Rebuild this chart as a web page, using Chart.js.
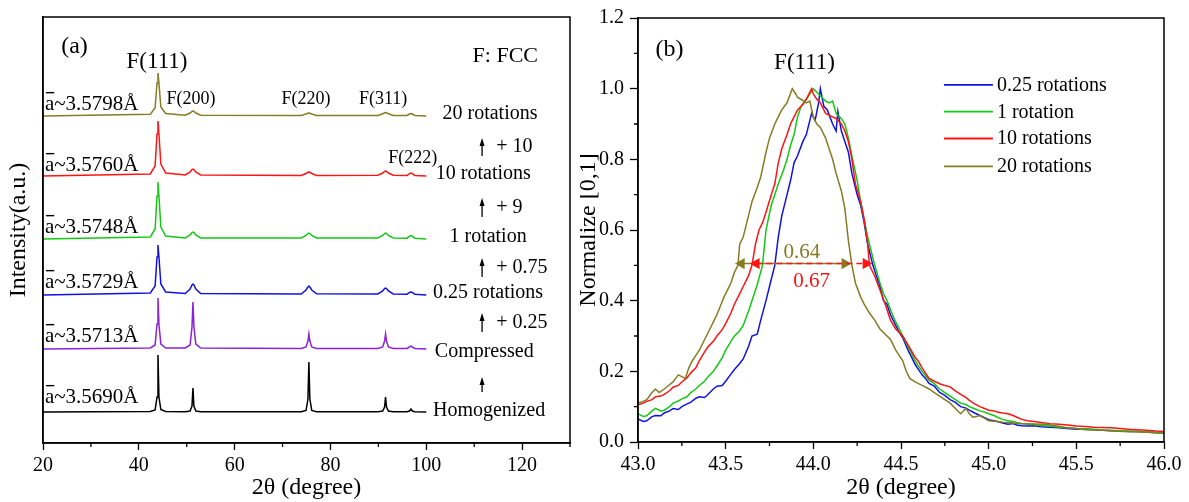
<!DOCTYPE html>
<html>
<head>
<meta charset="utf-8">
<script src="https://cdn.jsdelivr.net/npm/chart.js@4.4.0/dist/chart.umd.min.js"></script>
<style>
body { margin: 0; background: #fff; }
#wa { position: absolute; left: 0; top: 0; width: 580px; height: 502px; }
#wb { position: absolute; left: 580px; top: 0; width: 609px; height: 502px; }
</style>
</head>
<body>
<div id="wa"><canvas id="chartA"></canvas></div>
<div id="wb"><canvas id="chartB"></canvas></div>
<script>
// ---------- panel (a): stacked XRD patterns ----------
var sampleNames = ['Homogenized', 'Compressed', '0.25 rotations', '1 rotation', '10 rotations', '20 rotations'];
var colorsA = ['#000000', '#8b22d8', '#1212e0', '#14c814', '#ff1414', '#857c24'];
var offsets = [31, 94, 148, 204, 267, 327];
var latticeLabels = ['a~3.5690Å', 'a~3.5713Å', 'a~3.5729Å', 'a~3.5748Å', 'a~3.5760Å', 'a~3.5798Å'];
var shiftLabels = ['', '+ 0.25', '+ 0.75', '+ 9', '+ 10'];

var twoTheta = [20,
  42.4, 43.4, 43.8, 44.0, 44.2, 44.6, 45.6,
  49.7, 50.7, 51.1, 51.3, 51.5, 51.9, 52.9,
  73.9, 74.9, 75.3, 75.5, 75.7, 76.1, 77.1,
  89.9, 90.9, 91.3, 91.5, 91.7, 92.1, 93.1,
  96.0, 96.5, 96.8, 97.1, 97.6,
  100];

var homogenized = [0, 0.5, 2, 15, 57, 15, 2.5, 0.5, 0.3, 1, 6, 24, 6, 1, 0.3, 0.3, 1.5, 13, 50, 13, 1.5, 0.3, 0.3, 1, 5, 15, 5, 1, 0.3, 0.2, 1, 3, 1, 0.2, 0];
var compressed = [0, 1, 4, 25, 51, 25, 5, 1, 1, 4, 22, 47, 22, 5, 1, 0.5, 2, 8, 15, 8, 2, 0.5, 0.5, 2, 8, 15, 8, 2, 0.5, 0.5, 2, 3, 2, 0.5, 0];
var rot025 = [0, 2, 9, 38, 50, 38, 11, 3, 1.5, 6, 10, 11, 10, 6, 1.5, 1, 5, 8, 9, 8, 5, 1.2, 1, 4, 6.5, 7, 6.5, 4, 1, 0.8, 2.5, 3, 2.5, 0.8, 0];
var rot1 = [0, 2, 10, 43, 57, 43, 12, 3, 1, 4, 6.5, 7, 6.5, 4, 1, 1, 3.5, 5.5, 6, 5.5, 3.5, 1, 1, 3.5, 5.5, 6, 5.5, 3.5, 1, 0.8, 2.8, 3.5, 2.8, 0.8, 0];
var rot10 = [0, 2, 10, 42, 55, 42, 12, 3, 1, 4, 6.5, 7, 6.5, 4, 1, 0.6, 2.5, 3.7, 4, 3.7, 2.5, 0.6, 0.8, 3, 4.6, 5, 4.6, 3, 0.8, 0.6, 2.4, 3, 2.4, 0.6, 0];
var rot20 = [0, 1.8, 8, 33, 43, 33, 9, 2.5, 0.8, 3, 4.6, 5, 4.6, 3, 0.8, 0.5, 2, 2.8, 3, 2.8, 2, 0.5, 0.6, 2.2, 3.2, 3.5, 3.2, 2.2, 0.6, 0.5, 2, 2.5, 2, 0.5, 0];
var patterns = [homogenized, compressed, rot025, rot1, rot10, rot20];

var xTicksA = [20, 40, 60, 80, 100, 120];
var xMinorA = [30, 50, 70, 90, 110, 130];

// ---------- panel (b): normalized F(111) peak ----------
var namesB = ['0.25 rotations', '1 rotation', '10 rotations', '20 rotations'];
var colorsB = ['#1212e0', '#14c814', '#ff1414', '#857c24'];

var peak025 = [[43.00,0.065],[43.03,0.058],[43.05,0.060],[43.08,0.072],[43.10,0.075],[43.13,0.074],[43.15,0.082],[43.18,0.088],[43.20,0.095],[43.23,0.092],[43.25,0.100],[43.28,0.108],[43.30,0.112],[43.33,0.124],[43.35,0.128],[43.38,0.126],[43.40,0.135],[43.43,0.150],[43.45,0.158],[43.48,0.160],[43.50,0.172],[43.53,0.192],[43.55,0.205],[43.58,0.222],[43.60,0.235],[43.63,0.270],[43.65,0.300],[43.68,0.305],[43.70,0.345],[43.73,0.400],[43.75,0.440],[43.78,0.500],[43.80,0.580],[43.82,0.640],[43.85,0.700],[43.87,0.740],[43.89,0.790],[43.91,0.810],[43.94,0.850],[43.96,0.870],[43.99,0.930],[44.01,0.910],[44.03,0.960],[44.04,1.000],[44.06,0.950],[44.08,0.940],[44.11,0.900],[44.13,0.880],[44.14,0.935],[44.16,0.880],[44.18,0.850],[44.20,0.820],[44.22,0.760],[44.25,0.700],[44.27,0.670],[44.29,0.620],[44.31,0.560],[44.34,0.500],[44.36,0.470],[44.38,0.440],[44.40,0.400],[44.42,0.390],[44.44,0.360],[44.46,0.340],[44.49,0.310],[44.51,0.295],[44.54,0.260],[44.56,0.240],[44.58,0.220],[44.60,0.205],[44.62,0.190],[44.64,0.180],[44.66,0.166],[44.69,0.158],[44.72,0.140],[44.75,0.132],[44.78,0.120],[44.81,0.112],[44.84,0.100],[44.87,0.096],[44.89,0.090],[44.92,0.082],[44.95,0.075],[44.98,0.068],[45.00,0.063],[45.03,0.060],[45.05,0.058],[45.08,0.054],[45.11,0.050],[45.14,0.052],[45.16,0.048],[45.19,0.046],[45.22,0.045],[45.26,0.046],[45.30,0.043],[45.35,0.042],[45.40,0.040],[45.45,0.038],[45.50,0.036],[45.55,0.037],[45.60,0.035],[45.65,0.033],[45.70,0.032],[45.75,0.031],[45.80,0.030],[45.85,0.030],[45.90,0.028],[45.95,0.027],[46.00,0.025]];

var peak1 = [[43.00,0.080],[43.03,0.072],[43.05,0.074],[43.08,0.088],[43.10,0.095],[43.13,0.088],[43.15,0.090],[43.18,0.100],[43.20,0.110],[43.23,0.116],[43.25,0.122],[43.28,0.128],[43.30,0.140],[43.33,0.150],[43.35,0.160],[43.38,0.172],[43.40,0.185],[43.43,0.200],[43.45,0.215],[43.48,0.238],[43.50,0.260],[43.53,0.285],[43.55,0.300],[43.58,0.315],[43.60,0.330],[43.63,0.370],[43.65,0.400],[43.68,0.445],[43.71,0.500],[43.73,0.600],[43.76,0.670],[43.78,0.700],[43.80,0.730],[43.83,0.770],[43.85,0.800],[43.87,0.840],[43.89,0.870],[43.91,0.920],[43.93,0.950],[43.96,0.970],[43.98,0.985],[44.00,1.000],[44.02,0.990],[44.04,0.980],[44.07,0.965],[44.09,0.960],[44.11,0.965],[44.13,0.930],[44.16,0.915],[44.18,0.900],[44.20,0.860],[44.22,0.810],[44.25,0.740],[44.27,0.680],[44.29,0.630],[44.31,0.580],[44.33,0.540],[44.35,0.500],[44.38,0.450],[44.40,0.420],[44.42,0.400],[44.44,0.375],[44.46,0.350],[44.49,0.320],[44.51,0.300],[44.54,0.270],[44.56,0.250],[44.58,0.230],[44.60,0.215],[44.62,0.200],[44.64,0.188],[44.66,0.175],[44.69,0.165],[44.72,0.150],[44.75,0.140],[44.78,0.130],[44.81,0.120],[44.84,0.110],[44.87,0.106],[44.89,0.100],[44.92,0.094],[44.95,0.088],[44.98,0.084],[45.00,0.080],[45.03,0.075],[45.05,0.070],[45.08,0.064],[45.11,0.060],[45.14,0.058],[45.16,0.055],[45.19,0.052],[45.22,0.050],[45.26,0.049],[45.30,0.047],[45.35,0.045],[45.40,0.042],[45.45,0.040],[45.50,0.038],[45.55,0.037],[45.60,0.036],[45.65,0.034],[45.70,0.033],[45.75,0.032],[45.80,0.031],[45.85,0.030],[45.90,0.029],[45.95,0.027],[46.00,0.025]];

var peak10 = [[43.00,0.105],[43.03,0.110],[43.05,0.115],[43.08,0.120],[43.10,0.128],[43.13,0.130],[43.15,0.135],[43.18,0.145],[43.20,0.155],[43.23,0.160],[43.25,0.170],[43.28,0.182],[43.30,0.195],[43.33,0.210],[43.35,0.230],[43.38,0.255],[43.40,0.270],[43.43,0.285],[43.45,0.300],[43.48,0.318],[43.50,0.335],[43.53,0.365],[43.55,0.390],[43.58,0.420],[43.60,0.440],[43.63,0.470],[43.65,0.500],[43.67,0.560],[43.69,0.600],[43.71,0.620],[43.73,0.650],[43.76,0.700],[43.78,0.730],[43.80,0.790],[43.82,0.830],[43.85,0.870],[43.87,0.900],[43.89,0.920],[43.91,0.940],[43.94,0.955],[43.96,0.970],[43.99,1.000],[44.00,0.985],[44.02,0.970],[44.04,0.960],[44.05,0.950],[44.07,0.930],[44.09,0.925],[44.11,0.920],[44.13,0.915],[44.16,0.900],[44.18,0.880],[44.20,0.850],[44.22,0.800],[44.24,0.730],[44.27,0.680],[44.29,0.630],[44.31,0.560],[44.32,0.500],[44.35,0.470],[44.38,0.430],[44.41,0.390],[44.44,0.345],[44.47,0.320],[44.51,0.300],[44.54,0.275],[44.58,0.240],[44.60,0.228],[44.62,0.210],[44.64,0.195],[44.66,0.180],[44.69,0.172],[44.72,0.165],[44.75,0.160],[44.78,0.156],[44.81,0.145],[44.84,0.135],[44.87,0.126],[44.89,0.118],[44.92,0.108],[44.95,0.100],[44.98,0.094],[45.00,0.090],[45.03,0.088],[45.05,0.085],[45.08,0.082],[45.11,0.080],[45.14,0.075],[45.16,0.070],[45.19,0.064],[45.22,0.060],[45.26,0.058],[45.30,0.055],[45.35,0.052],[45.40,0.050],[45.45,0.048],[45.50,0.045],[45.55,0.044],[45.60,0.042],[45.65,0.041],[45.70,0.040],[45.75,0.038],[45.80,0.036],[45.85,0.035],[45.90,0.033],[45.95,0.031],[46.00,0.030]];

var peak20 = [[43.00,0.110],[43.03,0.115],[43.05,0.120],[43.08,0.140],[43.10,0.150],[43.12,0.140],[43.15,0.150],[43.18,0.162],[43.20,0.170],[43.23,0.190],[43.25,0.185],[43.27,0.180],[43.29,0.210],[43.31,0.230],[43.33,0.245],[43.35,0.260],[43.38,0.290],[43.40,0.310],[43.43,0.340],[43.45,0.360],[43.47,0.385],[43.49,0.410],[43.51,0.430],[43.53,0.450],[43.55,0.480],[43.57,0.500],[43.58,0.560],[43.60,0.580],[43.63,0.640],[43.65,0.680],[43.68,0.720],[43.70,0.750],[43.73,0.820],[43.75,0.860],[43.78,0.900],[43.80,0.920],[43.82,0.940],[43.85,0.960],[43.88,1.000],[43.90,0.985],[43.91,0.975],[43.93,0.970],[43.96,0.960],[43.98,0.965],[44.00,0.920],[44.02,0.900],[44.04,0.890],[44.07,0.860],[44.09,0.830],[44.11,0.800],[44.13,0.760],[44.16,0.710],[44.18,0.660],[44.20,0.570],[44.22,0.500],[44.24,0.450],[44.27,0.410],[44.29,0.390],[44.32,0.365],[44.35,0.345],[44.38,0.320],[44.41,0.305],[44.44,0.290],[44.47,0.260],[44.51,0.230],[44.53,0.200],[44.55,0.180],[44.58,0.170],[44.60,0.165],[44.63,0.158],[44.66,0.150],[44.69,0.140],[44.72,0.130],[44.75,0.120],[44.78,0.110],[44.81,0.095],[44.84,0.080],[44.87,0.095],[44.89,0.080],[44.91,0.070],[44.93,0.072],[44.95,0.075],[44.98,0.066],[45.00,0.060],[45.03,0.059],[45.05,0.058],[45.08,0.056],[45.11,0.055],[45.15,0.053],[45.20,0.052],[45.26,0.051],[45.33,0.050],[45.39,0.045],[45.45,0.040],[45.50,0.038],[45.55,0.035],[45.60,0.034],[45.66,0.033],[45.71,0.031],[45.77,0.030],[45.83,0.029],[45.88,0.028],[45.94,0.026],[46.00,0.025]];

var peaksB = [peak025, peak1, peak10, peak20];
var halfMax = 0.505;
var fwhm20 = [43.56, 44.21];   // 0.64
var fwhm10 = [43.645, 44.33];  // 0.67

var xTicksB = [43.0, 43.5, 44.0, 44.5, 45.0, 45.5, 46.0];
var xMinorB = [43.25, 43.75, 44.25, 44.75, 45.25, 45.75];
var yTicksB = [0, 0.2, 0.4, 0.6, 0.8, 1.0, 1.2];
var yMinorB = [0.1, 0.3, 0.5, 0.7, 0.9, 1.1];

var serif = "'Liberation Serif', 'Times New Roman', serif";
Chart.defaults.font.family = serif;
Chart.defaults.color = '#000';

// minor ticks + closed frame
var frame = {
  id: 'frame',
  afterDraw: function (chart, args, opts) {
    var ctx = chart.ctx, a = chart.chartArea;
    ctx.save();
    ctx.strokeStyle = '#000';
    ctx.lineWidth = 1.3;
    ctx.beginPath();
    (opts.xMinor || []).forEach(function (v) {
      var px = chart.scales.x.getPixelForValue(v);
      ctx.moveTo(px, a.bottom);
      ctx.lineTo(px, a.bottom + 4);
    });
    (opts.yMinor || []).forEach(function (v) {
      var py = chart.scales.y.getPixelForValue(v);
      ctx.moveTo(a.left - 4, py);
      ctx.lineTo(a.left, py);
    });
    ctx.stroke();
    ctx.lineWidth = 1.5;
    ctx.strokeRect(a.left, a.top, a.right - a.left, a.bottom - a.top);
    ctx.restore();
  }
};

// text labels, small arrows and in-plot legend, placed in data coordinates
var notes = {
  id: 'notes',
  afterDraw: function (chart, args, opts) {
    var ctx = chart.ctx, xs = chart.scales.x, ys = chart.scales.y;
    ctx.save();
    ctx.textBaseline = 'alphabetic';
    (opts.texts || []).forEach(function (t) {
      ctx.font = t.size + 'px ' + serif;
      ctx.fillStyle = t.color || '#000';
      ctx.textAlign = t.align || 'center';
      var px = xs.getPixelForValue(t.x), py = ys.getPixelForValue(t.y);
      ctx.fillText(t.text, px, py);
      if (t.bar) {
        var w = ctx.measureText('a').width;
        ctx.fillRect(px + 1, py - t.size * 0.86, w - 1, 1.4);
      }
    });
    (opts.arrows || []).forEach(function (r) {
      var px = xs.getPixelForValue(r.x), y0 = ys.getPixelForValue(r.y0), y1 = ys.getPixelForValue(r.y1);
      ctx.strokeStyle = '#000';
      ctx.fillStyle = '#000';
      ctx.lineWidth = 1.3;
      ctx.beginPath();
      ctx.moveTo(px, y0);
      ctx.lineTo(px, y1 + 5);
      ctx.stroke();
      ctx.beginPath();
      ctx.moveTo(px, y1);
      ctx.lineTo(px - 2.5, y1 + 8);
      ctx.lineTo(px + 2.5, y1 + 8);
      ctx.closePath();
      ctx.fill();
    });
    if (opts.legend) {
      var L = opts.legend;
      ctx.font = L.size + 'px ' + serif;
      ctx.textAlign = 'left';
      L.items.forEach(function (it, i) {
        var py = ys.getPixelForValue(L.y[i]);
        ctx.strokeStyle = it.color;
        ctx.lineWidth = 1.8;
        ctx.beginPath();
        ctx.moveTo(xs.getPixelForValue(L.x0), py);
        ctx.lineTo(xs.getPixelForValue(L.x1), py);
        ctx.stroke();
        ctx.fillStyle = '#000';
        ctx.fillText(it.text, xs.getPixelForValue(L.tx), py + 6);
      });
    }
    ctx.restore();
  }
};

// ----- chart (a) -----
var datasetsA = sampleNames.map(function (name, i) {
  return {
    label: name,
    data: twoTheta.map(function (x, j) { return { x: x, y: offsets[i] + patterns[i][j] }; }),
    borderColor: colorsA[i],
    borderWidth: 1.5,
    pointRadius: 0,
    tension: 0,
    fill: false
  };
});

var textsA = [
  { text: '(a)', x: 23.8, y: 390, size: 24, align: 'left' },
  { text: 'F(111)', x: 43.8, y: 375, size: 23 },
  { text: 'F: FCC', x: 116.5, y: 381, size: 22 },
  { text: 'F(200)', x: 50.9, y: 339, size: 18 },
  { text: 'F(220)', x: 74.9, y: 339, size: 18 },
  { text: 'F(311)', x: 91.0, y: 339, size: 18 },
  { text: 'F(222)', x: 97.2, y: 280, size: 18 }
];
var latY = [40, 101, 155, 210, 272, 333];
var nameX = [113.1, 112.1, 112.9, 112.9, 111.9, 113.3];
var nameY = [27, 86, 145, 201, 264, 324];
for (var i = 0; i < sampleNames.length; i++) {
  textsA.push({ text: latticeLabels[i], x: 20.4, y: latY[i], size: 21, align: 'left', bar: true });
  textsA.push({ text: sampleNames[i], x: nameX[i], y: nameY[i], size: 20 });
}
var shiftY = [0, 115, 170, 230, 291];
for (var k = 1; k < shiftLabels.length; k++) {
  textsA.push({ text: shiftLabels[k], x: 114.6, y: shiftY[k], size: 20, align: 'left' });
}
var arrowsA = [
  { x: 111.65, y0: 51, y1: 66 },
  { x: 111.65, y0: 111, y1: 130 },
  { x: 111.65, y0: 166, y1: 185 },
  { x: 111.65, y0: 226, y1: 245 },
  { x: 111.65, y0: 287, y1: 305 }
];

new Chart(document.getElementById('chartA'), {
  type: 'line',
  data: { datasets: datasetsA },
  options: {
    responsive: true,
    maintainAspectRatio: false,
    animation: false,
    layout: { padding: { left: 0, right: 10, top: 17, bottom: 0 } },
    plugins: {
      legend: { display: false },
      tooltip: { enabled: false },
      frame: { xMinor: xMinorA },
      notes: { texts: textsA, arrows: arrowsA }
    },
    scales: {
      x: {
        type: 'linear', min: 20, max: 130,
        afterBuildTicks: function (s) { s.ticks = xTicksA.map(function (v) { return { value: v }; }); },
        afterFit: function (s) { s.height = 59; },
        ticks: { font: { size: 20 }, padding: 4, maxRotation: 0, color: '#000' },
        grid: { drawOnChartArea: false, drawTicks: true, tickLength: 7, tickColor: '#000', tickWidth: 1.3 },
        border: { color: '#000', width: 1.5 },
        title: { display: true, text: '2θ (degree)', font: { size: 24, lineHeight: 1.2 }, padding: { top: 0, bottom: 0 }, color: '#000' }
      },
      y: {
        min: 0, max: 426,
        afterFit: function (s) { s.width = 43; },
        ticks: { display: false },
        grid: { display: false },
        border: { color: '#000', width: 1.5 },
        title: { display: true, text: 'Intensity(a.u.)', font: { size: 24, lineHeight: 0.8 }, padding: { top: 9, bottom: 0 }, color: '#000' }
      }
    }
  },
  plugins: [frame, notes]
});

// ----- chart (b) -----
var datasetsB = [
  {
    label: 'fwhm10',
    data: [{ x: fwhm10[0] + 0.03, y: halfMax }, { x: fwhm10[1] - 0.03, y: halfMax }],
    borderColor: '#ff1414', backgroundColor: '#ff1414', borderWidth: 1.5, borderDash: [6, 4],
    pointStyle: 'triangle', pointRadius: 5, pointRotation: [-90, 90], showLine: true
  },
  {
    label: 'fwhm20',
    data: [{ x: fwhm20[0] + 0.03, y: halfMax }, { x: fwhm20[1] - 0.03, y: halfMax }],
    borderColor: '#857c24', backgroundColor: '#857c24', borderWidth: 1.5,
    pointStyle: 'triangle', pointRadius: 5, pointRotation: [-90, 90], showLine: true
  }
];
for (var j = peaksB.length - 1; j >= 0; j--) {
  datasetsB.push({
    label: namesB[j],
    data: peaksB[j].map(function (p) { return { x: p[0], y: p[1] }; }),
    borderColor: colorsB[j],
    borderWidth: 1.5,
    pointRadius: 0,
    tension: 0,
    fill: false
  });
}

var textsB = [
  { text: '(b)', x: 43.10, y: 1.093, size: 24, align: 'left' },
  { text: 'F(111)', x: 43.95, y: 1.056, size: 23 },
  { text: '0.64', x: 43.935, y: 0.520, size: 21, color: '#857c24' },
  { text: '0.67', x: 43.99, y: 0.438, size: 21, color: '#ff1414' }
];
var legendB = {
  size: 20, x0: 44.745, x1: 45.024, tx: 45.047,
  y: [1.011, 0.935, 0.859, 0.780],
  items: namesB.map(function (n, i) { return { text: n, color: colorsB[i] }; })
};

new Chart(document.getElementById('chartB'), {
  type: 'line',
  data: { datasets: datasetsB },
  options: {
    responsive: true,
    maintainAspectRatio: false,
    animation: false,
    layout: { padding: { left: 0, right: 25, top: 17, bottom: 0 } },
    plugins: {
      legend: { display: false },
      tooltip: { enabled: false },
      frame: { xMinor: xMinorB, yMinor: yMinorB },
      notes: { texts: textsB, legend: legendB }
    },
    scales: {
      x: {
        type: 'linear', min: 43, max: 46,
        afterBuildTicks: function (s) { s.ticks = xTicksB.map(function (v) { return { value: v }; }); },
        afterFit: function (s) { s.height = 60; },
        ticks: { font: { size: 20 }, padding: 4, maxRotation: 0, color: '#000', callback: function (v) { return Number(v).toFixed(1); } },
        grid: { drawOnChartArea: false, drawTicks: true, tickLength: 7, tickColor: '#000', tickWidth: 1.3 },
        border: { color: '#000', width: 1.5 },
        title: { display: true, text: '2θ (degree)', font: { size: 24, lineHeight: 1.2 }, padding: { top: 0, bottom: 0 }, color: '#000' }
      },
      y: {
        min: 0, max: 1.2,
        afterBuildTicks: function (s) { s.ticks = yTicksB.map(function (v) { return { value: v }; }); },
        afterFit: function (s) { s.width = 58; },
        ticks: { font: { size: 20 }, padding: 6, color: '#000', callback: function (v) { return Number(v).toFixed(1); } },
        grid: { drawOnChartArea: false, drawTicks: true, tickLength: 8, tickColor: '#000', tickWidth: 1.3 },
        border: { color: '#000', width: 1.5 },
        title: { display: true, text: 'Normalize [0,1]', font: { size: 24, lineHeight: 0.7 }, padding: { top: 0, bottom: 0 }, color: '#000' }
      }
    }
  },
  plugins: [frame, notes]
});
</script>
</body>
</html>
